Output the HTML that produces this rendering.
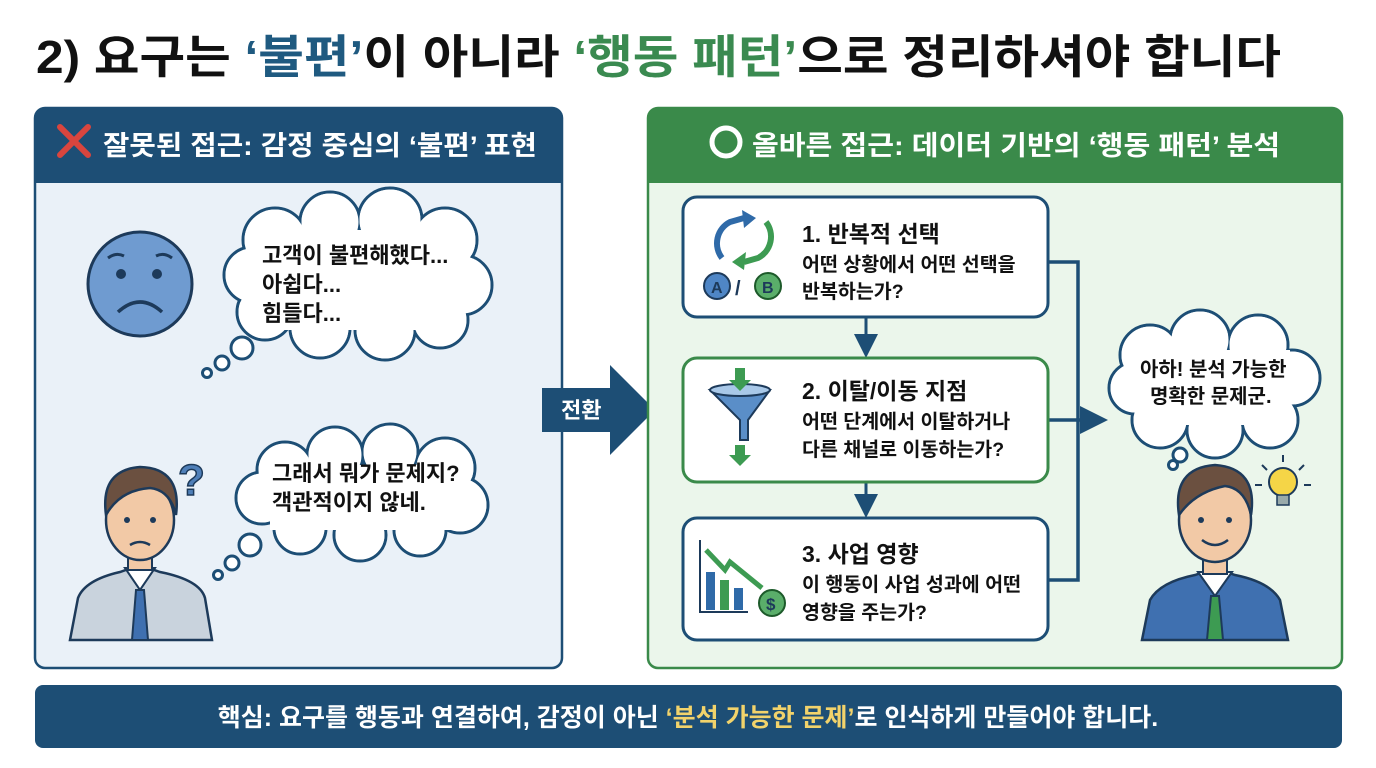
<!DOCTYPE html>
<html><head><meta charset="utf-8"><style>
html,body{margin:0;padding:0;background:#fff;}
svg{display:block;}
text{font-family:"Liberation Sans","Noto Sans CJK KR",sans-serif;font-weight:700;}
</style></head><body>
<svg width="1376" height="768" viewBox="0 0 1376 768" xmlns="http://www.w3.org/2000/svg">
<defs>
<marker id="ah" markerWidth="8" markerHeight="8" refX="4" refY="4" orient="auto" markerUnits="strokeWidth"><path d="M0,0 L8,4 L0,8 z" fill="#1d4e75"/></marker>
</defs>
<rect width="1376" height="768" fill="#fff"/>
<text x="36" y="73" font-size="46" fill="#111" textLength="1245" lengthAdjust="spacingAndGlyphs">2) 요구는 <tspan fill="#1f5a80">‘불편’</tspan>이 아니라 <tspan fill="#3a8a50">‘행동 패턴’</tspan>으로 정리하셔야 합니다</text>

<rect x="35" y="108" width="527" height="560" rx="10" fill="#eaf1f8" stroke="#1d4e75" stroke-width="2.5"/>
<path d="M35,183 V118 a10,10 0 0 1 10,-10 H552 a10,10 0 0 1 10,10 V183 z" fill="#1d4e75"/>
<path d="M60,127 L88,155 M88,127 L60,155" stroke="#d9453e" stroke-width="6" stroke-linecap="round"/>
<text x="103" y="155" font-size="27" fill="#fff" textLength="434" lengthAdjust="spacingAndGlyphs">잘못된 접근: 감정 중심의 ‘불편’ 표현</text>

<circle cx="140" cy="284" r="52" fill="#6f9bd0" stroke="#1d3a5a" stroke-width="3"/>
<circle cx="121" cy="274" r="5" fill="#1d3a5a"/><circle cx="157" cy="274" r="5" fill="#1d3a5a"/>
<path d="M108,258 q8,-6 16,-2 M156,256 q8,-4 16,2" stroke="#1d3a5a" stroke-width="3" fill="none"/>
<path d="M118,312 q22,-20 44,0" stroke="#1d3a5a" stroke-width="3.5" fill="none"/>

<g stroke="#1d4e75" stroke-width="3" fill="#fff">
<g>
<circle cx="275" cy="240" r="32"/><circle cx="330" cy="222" r="30"/><circle cx="390" cy="220" r="32"/><circle cx="445" cy="240" r="32"/>
<circle cx="462" cy="285" r="30"/><circle cx="440" cy="320" r="28"/><circle cx="385" cy="330" r="30"/><circle cx="320" cy="328" r="30"/>
<circle cx="265" cy="312" r="28"/><circle cx="252" cy="275" r="28"/>
</g>
<g stroke="none">
<circle cx="275" cy="240" r="30.5"/><circle cx="330" cy="222" r="28.5"/><circle cx="390" cy="220" r="30.5"/><circle cx="445" cy="240" r="30.5"/>
<circle cx="462" cy="285" r="28.5"/><circle cx="440" cy="320" r="26.5"/><circle cx="385" cy="330" r="28.5"/><circle cx="320" cy="328" r="28.5"/>
<circle cx="265" cy="312" r="26.5"/><circle cx="252" cy="275" r="26.5"/>
<rect x="260" y="230" width="200" height="100"/>
</g>
<circle cx="242" cy="348" r="11"/><circle cx="222" cy="363" r="7"/><circle cx="207" cy="373" r="4.5"/>
</g>
<text x="262" y="263" font-size="22" fill="#111">고객이 불편해했다...</text>
<text x="262" y="292" font-size="22" fill="#111">아쉽다...</text>
<text x="262" y="321" font-size="22" fill="#111">힘들다...</text>

<g stroke="#1d4e75" stroke-width="3" fill="#fff">
<g>
<circle cx="285" cy="470" r="28"/><circle cx="335" cy="455" r="28"/><circle cx="390" cy="452" r="28"/><circle cx="445" cy="468" r="30"/>
<circle cx="460" cy="505" r="28"/><circle cx="420" cy="530" r="26"/><circle cx="360" cy="535" r="26"/><circle cx="300" cy="528" r="26"/><circle cx="262" cy="498" r="26"/>
</g>
<g stroke="none">
<circle cx="285" cy="470" r="26.5"/><circle cx="335" cy="455" r="26.5"/><circle cx="390" cy="452" r="26.5"/><circle cx="445" cy="468" r="28.5"/>
<circle cx="460" cy="505" r="26.5"/><circle cx="420" cy="530" r="24.5"/><circle cx="360" cy="535" r="24.5"/><circle cx="300" cy="528" r="24.5"/><circle cx="262" cy="498" r="24.5"/>
<rect x="270" y="465" width="190" height="65"/>
</g>
<circle cx="250" cy="545" r="11"/><circle cx="232" cy="563" r="7"/><circle cx="218" cy="575" r="4.5"/>
</g>
<text x="272" y="481" font-size="22" fill="#111">그래서 뭐가 문제지?</text>
<text x="272" y="510" font-size="22" fill="#111">객관적이지 않네.</text>

<text x="178" y="495" font-size="44" fill="#4f7fb8" stroke="#1d3a5a" stroke-width="1.5">?</text>
<path d="M70,640 L78,598 Q85,580 120,572 L140,565 L160,572 Q200,580 205,598 L212,640 z" fill="#c9d3dd" stroke="#1d3a5a" stroke-width="2.5"/>
<path d="M125,568 L140,590 L155,568 z" fill="#fff" stroke="#1d3a5a" stroke-width="2"/>
<path d="M136,590 L144,590 L148,640 L132,640 z" fill="#3f70b0" stroke="#1d3a5a" stroke-width="2"/>
<rect x="128" y="545" width="24" height="25" fill="#f2c9a6" stroke="#1d3a5a" stroke-width="2"/>
<ellipse cx="140" cy="520" rx="34" ry="40" fill="#f2c9a6" stroke="#1d3a5a" stroke-width="2.5"/>
<path d="M106,515 Q100,470 140,467 Q182,468 176,515 Q170,490 150,488 Q120,490 106,515 z" fill="#6b5040" stroke="#1d3a5a" stroke-width="2.5"/>
<circle cx="127" cy="520" r="3" fill="#1d3a5a"/><circle cx="153" cy="520" r="3" fill="#1d3a5a"/>
<path d="M130,545 q10,-6 20,0" stroke="#1d3a5a" stroke-width="2.5" fill="none"/>

<path d="M542,388 H610 V365 L655,410 L610,455 V432 H542 z" fill="#1d4e75"/>
<text x="561" y="418" font-size="22" fill="#fff">전환</text>

<rect x="648" y="108" width="694" height="560" rx="10" fill="#ebf6eb" stroke="#3a8a4a" stroke-width="2.5"/>
<path d="M648,183 V118 a10,10 0 0 1 10,-10 H1332 a10,10 0 0 1 10,10 V183 z" fill="#3a8a4a"/>
<circle cx="726" cy="142" r="14" fill="none" stroke="#fff" stroke-width="5"/>
<text x="752" y="155" font-size="27" fill="#fff" textLength="528" lengthAdjust="spacingAndGlyphs">올바른 접근: 데이터 기반의 ‘행동 패턴’ 분석</text>

<path d="M1048,262 H1078 V580 H1048" fill="none" stroke="#1d4e75" stroke-width="3.5"/>
<line x1="1048" y1="420" x2="1094" y2="420" stroke="#1d4e75" stroke-width="3.5" marker-end="url(#ah)"/>
<line x1="866" y1="317" x2="866" y2="346" stroke="#1d4e75" stroke-width="3" marker-end="url(#ah)"/>
<line x1="866" y1="482" x2="866" y2="506" stroke="#1d4e75" stroke-width="3" marker-end="url(#ah)"/>

<rect x="683" y="197" width="365" height="120" rx="14" fill="#fff" stroke="#1d4e75" stroke-width="3"/>
<path d="M722,258 a24,24 0 0 1 8,-36 l14,-4" fill="none" stroke="#2f6aa8" stroke-width="6"/>
<path d="M742,210 l14,8 l-12,10 z" fill="#2f6aa8"/>
<path d="M766,222 a24,24 0 0 1 -8,36 l-14,4" fill="none" stroke="#3d9b52" stroke-width="6"/>
<path d="M746,252 l-14,10 l12,8 z" fill="#3d9b52"/>
<circle cx="717" cy="286" r="13" fill="#4f86c6" stroke="#1d3a5a" stroke-width="2"/>
<text x="711" y="293" font-size="16" fill="#1d3a5a" font-weight="400">A</text>
<text x="735" y="295" font-size="20" fill="#1d3a5a" font-weight="400">/</text>
<circle cx="768" cy="286" r="13" fill="#5aae6a" stroke="#1d5a2a" stroke-width="2"/>
<text x="762" y="293" font-size="16" fill="#1d3a5a" font-weight="400">B</text>
<text x="802" y="242" font-size="23" fill="#111">1. 반복적 선택</text>
<text x="802" y="271" font-size="19.5" fill="#111">어떤 상황에서 어떤 선택을</text>
<text x="802" y="298" font-size="19.5" fill="#111">반복하는가?</text>

<rect x="683" y="358" width="365" height="124" rx="14" fill="#fff" stroke="#3a8a4a" stroke-width="3"/>
<path d="M710,390 L770,390 L748,420 L748,440 L740,440 L740,420 z" fill="#5a8ec8" stroke="#1d3a5a" stroke-width="2"/>
<ellipse cx="740" cy="390" rx="30" ry="6" fill="#a8c8e8" stroke="#1d3a5a" stroke-width="2"/>
<path d="M735,368 h10 v12 h6 l-11,11 l-11,-11 h6 z" fill="#3d9b52"/>
<path d="M735,445 h10 v10 h6 l-11,11 l-11,-11 h6 z" fill="#3d9b52"/>
<text x="802" y="399" font-size="23" fill="#111">2. 이탈/이동 지점</text>
<text x="802" y="428" font-size="19.5" fill="#111">어떤 단계에서 이탈하거나</text>
<text x="802" y="456" font-size="19.5" fill="#111">다른 채널로 이동하는가?</text>

<rect x="683" y="518" width="365" height="122" rx="14" fill="#fff" stroke="#1d4e75" stroke-width="3"/>
<path d="M700,540 V612 H748" fill="none" stroke="#1d3a5a" stroke-width="2"/>
<rect x="706" y="572" width="9" height="38" fill="#2f6aa8"/>
<rect x="720" y="580" width="9" height="30" fill="#3d9b52"/>
<rect x="734" y="588" width="9" height="22" fill="#2f6aa8"/>
<path d="M706,550 L725,570 L730,562 L762,588" fill="none" stroke="#3d9b52" stroke-width="5"/>
<circle cx="772" cy="603" r="13" fill="#5aae6a" stroke="#1d5a2a" stroke-width="2"/>
<text x="766" y="610" font-size="17" fill="#1d3a5a">$</text>
<text x="802" y="562" font-size="23" fill="#111">3. 사업 영향</text>
<text x="802" y="591" font-size="19.5" fill="#111">이 행동이 사업 성과에 어떤</text>
<text x="802" y="619" font-size="19.5" fill="#111">영향을 주는가?</text>

<g stroke="#1d4e75" stroke-width="3" fill="#fff">
<g>
<circle cx="1150" cy="355" r="30"/><circle cx="1200" cy="340" r="30"/><circle cx="1258" cy="345" r="30"/><circle cx="1292" cy="378" r="28"/>
<circle cx="1270" cy="420" r="28"/><circle cx="1215" cy="430" r="28"/><circle cx="1160" cy="420" r="28"/><circle cx="1135" cy="388" r="26"/>
</g>
<g stroke="none">
<circle cx="1150" cy="355" r="28.5"/><circle cx="1200" cy="340" r="28.5"/><circle cx="1258" cy="345" r="28.5"/><circle cx="1292" cy="378" r="26.5"/>
<circle cx="1270" cy="420" r="26.5"/><circle cx="1215" cy="430" r="26.5"/><circle cx="1160" cy="420" r="26.5"/><circle cx="1135" cy="388" r="24.5"/>
<rect x="1140" y="350" width="150" height="75"/>
</g>
<circle cx="1180" cy="455" r="7"/><circle cx="1173" cy="465" r="4.5"/>
</g>
<text x="1140" y="376" font-size="20" fill="#111">아하! 분석 가능한</text>
<text x="1150" y="403" font-size="20" fill="#111">명확한 문제군.</text>

<path d="M1142,640 L1150,600 Q1160,582 1195,575 L1215,568 L1235,575 Q1270,582 1280,600 L1288,640 z" fill="#3f70b0" stroke="#1d3a5a" stroke-width="2.5"/>
<path d="M1198,572 L1215,596 L1232,572 z" fill="#fff" stroke="#1d3a5a" stroke-width="2"/>
<path d="M1211,596 L1219,596 L1223,640 L1207,640 z" fill="#3d9b52" stroke="#1d3a5a" stroke-width="2"/>
<rect x="1203" y="548" width="24" height="26" fill="#f2c9a6" stroke="#1d3a5a" stroke-width="2"/>
<ellipse cx="1215" cy="520" rx="36" ry="42" fill="#f2c9a6" stroke="#1d3a5a" stroke-width="2.5"/>
<path d="M1179,515 Q1172,468 1215,465 Q1258,468 1251,515 Q1245,488 1225,486 Q1195,492 1179,515 z" fill="#6b5040" stroke="#1d3a5a" stroke-width="2.5"/>
<circle cx="1201" cy="520" r="3" fill="#1d3a5a"/><circle cx="1229" cy="520" r="3" fill="#1d3a5a"/>
<path d="M1202,540 q13,10 26,0" stroke="#1d3a5a" stroke-width="2.5" fill="none"/>
<circle cx="1283" cy="482" r="14" fill="#f5d547" stroke="#1d3a5a" stroke-width="2"/>
<rect x="1277" y="495" width="12" height="10" fill="#9aa" stroke="#1d3a5a" stroke-width="1.5"/>
<g stroke="#1d3a5a" stroke-width="2"><line x1="1283" y1="455" x2="1283" y2="462"/><line x1="1262" y1="465" x2="1267" y2="470"/><line x1="1304" y1="465" x2="1299" y2="470"/><line x1="1255" y1="485" x2="1262" y2="485"/><line x1="1304" y1="485" x2="1311" y2="485"/></g>

<rect x="35" y="685" width="1307" height="63" rx="8" fill="#1d4e75"/>
<text x="688" y="726" font-size="25" fill="#fff" text-anchor="middle">핵심: 요구를 행동과 연결하여, 감정이 아닌 <tspan fill="#f2d36b">‘분석 가능한 문제’</tspan>로 인식하게 만들어야 합니다.</text>
</svg>
</body></html>
